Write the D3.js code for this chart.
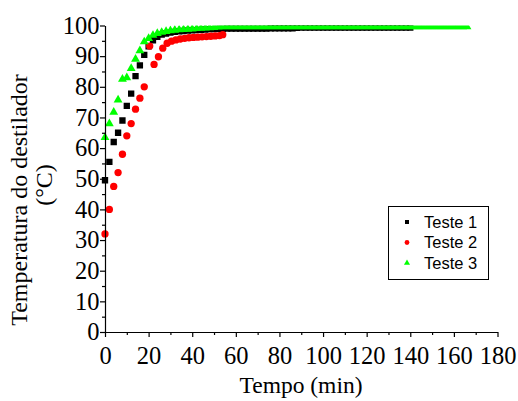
<!DOCTYPE html>
<html><head><meta charset="utf-8">
<script src="https://cdn.jsdelivr.net/npm/d3@7"></script>
<style>
body{margin:0;background:#fff}svg{display:block}
svg text.serif, svg .tick text{font-family:"Liberation Serif","Times New Roman",serif !important;}
svg text.sans{font-family:"Liberation Sans",Arial,sans-serif !important;}
</style>
</head><body>
<script>
const xTicks = [0,20,40,60,80,100,120,140,160,180];
const yTicks = [0,10,20,30,40,50,60,70,80,90,100];
const seriesNames = ["Teste 1","Teste 2","Teste 3"];
const seriesColors = ["#000000","#ff0000","#00ff00"];

const t1 = [0,2,4,6,8,10,12,14,16,18,20,22,24,26,28,30,32,34,36,38,40,42,44,46,48,50,52,54,56,58,60,62,64,66,68,70,72,74,76,78,80,82,84,86,88,90,92,94,96,98,100,102,104,106,108,110,112,114,116,118,120,122,124,126,128,130,132,134,136,138,140];
const v1 = [49.5,55.5,62,65,69,73.8,77.8,83.5,87,90.4,93.2,95.2,96.3,97,97.4,97.7,97.9,98.1,98.2,98.3,98.4,98.5,98.6,98.7,98.8,98.8,98.9,98.9,99,99,99,99,99,99,99,99,99,99,99.1,99.1,99.1,99.1,99.1,99.1,99.2,99.3,99.3,99.3,99.3,99.3,99.3,99.3,99.3,99.3,99.3,99.3,99.3,99.3,99.3,99.3,99.3,99.3,99.3,99.3,99.3,99.3,99.3,99.3,99.3,99.3,99.3];

const t2 = [0,2,4,6,8,10,12,14,16,18,20.5,22.5,24.5,26.5,28.5,30.5,32.5,34.5,36.5,38.5,40.5,42.5,44.5,46.5,48.5,50.5,52.5,54];
const v2 = [32,40,47.5,52,58,64,68,72.7,76.3,80,93.3,87.3,89.8,92.6,94.2,94.9,95.3,95.6,95.8,96,96.1,96.2,96.3,96.4,96.5,96.6,96.7,97];

const t3 = [0,2,4,6,8,10,12,14,16,18,20,22,24,26,28,30,32,34,36,38,40,42,44,46,48,50,52,54,56,58,60,62,64,66,68,70,72,74,76,78,80,82,84,86,88,90,92,94,96,98,100,102,104,106,108,110,112,114,116,118,120,122,124,126,128,130,132,134,136,138,140,142,144,146,148,150,152,154,156,158,160,162,164,166];
const v3 = [63.5,68,71.7,75.7,82.5,83,86,89,91.8,94.7,95.8,96.8,97.4,97.8,98.1,98.3,98.5,98.6,98.7,98.8,98.9,99,99.1,99.2,99.3,99.4,99.5,99.6,99.6,99.6,99.6,99.6,99.6,99.6,99.6,99.6,99.6,99.6,99.6,99.6,99.6,99.6,99.6,99.6,99.6,99.6,99.6,99.6,99.6,99.6,99.6,99.6,99.6,99.6,99.6,99.6,99.6,99.6,99.6,99.6,99.6,99.6,99.6,99.6,99.6,99.6,99.6,99.6,99.6,99.6,99.6,99.6,99.6,99.6,99.6,99.6,99.6,99.6,99.6,99.6,99.6,99.6,99.6,99.6];

const W = 518, H = 401;
const svg = d3.select("body").append("svg").attr("width", W).attr("height", H);
const x = d3.scaleLinear().domain([0,180]).range([105,497.5]);
const y = d3.scaleLinear().domain([0,100]).range([332,25.5]);

// data
const sq = d3.symbol().type(d3.symbolSquare).size(40);
const ci = d3.symbol().type(d3.symbolCircle).size(42);
const tr = d3.symbol().type(d3.symbolTriangle).size(34);
const syms = [sq, ci, tr];
const ts = [t1,t2,t3], vs = [v1,v2,v3];
svg.append("clipPath").attr("id","pc").append("rect")
  .attr("x",100).attr("y",y(100)).attr("width",420).attr("height",H);
const g = svg.append("g").attr("clip-path","url(#pc)");
[0,1,2].forEach(i=>{
  g.append("g").selectAll("path").data(ts[i].map((t,j)=>[t,vs[i][j]])).join("path")
    .attr("transform", d=>`translate(${x(d[0])},${y(d[1])})`)
    .attr("d", syms[i]()).attr("fill", seriesColors[i]);
});

// axes
const xAxis = svg.append("g").attr("transform","translate(0,332)");
xAxis.call(d3.axisBottom(x).tickValues(xTicks).tickSize(5).tickSizeOuter(0).tickFormat(d3.format("d")));
xAxis.append("g").call(d3.axisBottom(x).tickValues(d3.range(10,180,20)).tickSize(3).tickFormat("")).select(".domain").remove();
const yAxis = svg.append("g").attr("transform","translate(105,0)");
yAxis.call(d3.axisLeft(y).tickValues(yTicks).tickSize(5).tickSizeOuter(0).tickFormat(d3.format("d")));
yAxis.append("g").call(d3.axisLeft(y).tickValues(d3.range(5,100,10)).tickSize(3).tickFormat("")).select(".domain").remove();
[xAxis,yAxis].forEach(a=>a.attr("font-family","Liberation Serif").attr("font-size",24.5));
svg.selectAll(".tick text").attr("class","serif").attr("font-size",24.5).attr("fill","#000");
xAxis.selectAll(".tick text").attr("y",9).attr("dy","0.95em");
yAxis.selectAll(".tick text").attr("x",-5.5);
svg.selectAll(".domain,.tick line").attr("stroke","#000").attr("stroke-width",1.2);

// axis titles
svg.append("text").attr("class","serif").attr("x",301).attr("y",393).attr("text-anchor","middle")
  .attr("font-size",23.5).text("Tempo (min)");
svg.append("text").attr("class","serif").attr("transform","translate(27,200) rotate(-90)").attr("text-anchor","middle")
  .attr("font-size",24).text("Temperatura do destilador");
svg.append("text").attr("class","serif").attr("transform","translate(52,185) rotate(-90)").attr("text-anchor","middle")
  .attr("font-size",24).text("(°C)");

// legend
const lg = svg.append("g");
lg.append("rect").attr("x",388.5).attr("y",206.5).attr("width",100).attr("height",73)
  .attr("fill","#fff").attr("stroke","#000").attr("stroke-width",1);
const lsyms = [d3.symbol().type(d3.symbolSquare).size(16), d3.symbol().type(d3.symbolCircle).size(18), d3.symbol().type(d3.symbolTriangle).size(16)];
seriesNames.forEach((n,i)=>{
  const yy = 222 + i*20.5;
  lg.append("path").attr("transform",`translate(407,${yy})`).attr("d",lsyms[i]()).attr("fill",seriesColors[i]);
  lg.append("text").attr("class","sans").attr("x",424).attr("y",yy).attr("dy","0.36em")
    .attr("font-size",16.5).text(n);
});
</script>
</body></html>
